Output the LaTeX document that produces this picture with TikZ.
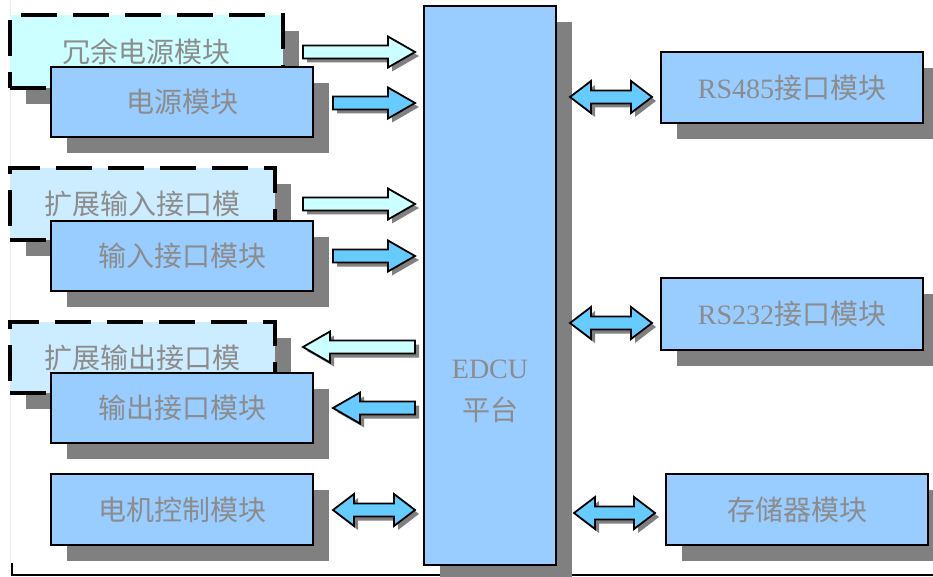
\documentclass[tikz,border=0pt]{standalone}
\usepackage{fontspec}
\setmainfont{Liberation Serif}
\newfontfamily\cjk{Noto Sans CJK SC}
\usetikzlibrary{shadows}
\definecolor{boxblue}{HTML}{99CCFF}
\definecolor{extcyan}{HTML}{CCFFFF}
\definecolor{extblue}{HTML}{CCECFF}
\definecolor{arrowblue}{HTML}{66CCFF}
\definecolor{shadowgray}{HTML}{808080}
\definecolor{txtgray}{HTML}{8C8C8C}
\tikzset{
  shad/.style={general shadow={shadow xshift=16pt, shadow yshift=-16pt, fill=shadowgray}},
  txt/.style={text=txtgray, font=\cjk\fontsize{28}{32}\selectfont},
  modbox/.style={txt, draw=black, line width=1.5pt, fill=boxblue, minimum width=262pt, minimum height=70pt, inner sep=0pt, shad},
  extbox/.style={txt, draw=black, line width=4pt, dash pattern=on 36pt off 16pt, minimum height=72pt, inner sep=0pt, shad},
  rpath/.style={insert path={(0,-6.5) -- (#1-27,-6.5) -- (#1-27,-15.5) -- (#1,0) -- (#1-27,15.5) -- (#1-27,6.5) -- (0,6.5) -- cycle}},
  lpath/.style={insert path={(0,0) -- (27,-15.5) -- (27,-6.5) -- (#1,-6.5) -- (#1,6.5) -- (27,6.5) -- (27,15.5) -- cycle}},
  dpath/.style={insert path={(0,0) -- (21,-16) -- (21,-6.5) -- (#1-21,-6.5) -- (#1-21,-16) -- (#1,0) -- (#1-21,16) -- (#1-21,6.5) -- (21,6.5) -- (21,16) -- cycle}},
  pics/blockarrow/.style n args={3}{code={
    \fill[shadowgray, shift={(4,4)}, #1=#2];
    \draw[black, line width=1.8pt, line join=miter, fill=#3, #1=#2];
  }},
}
\begin{document}
\begin{tikzpicture}[x=1pt, y=-1pt]
\useasboundingbox (0,0) rectangle (933,577);
\fill[white] (0,0) rectangle (933,577);
% frame
\draw[black!8, line width=0.6pt] (10,0) -- (10,563);
\draw[black, line width=1.5pt] (12,563) -- (12,575) -- (933,575);

% left column
\node[extbox, fill=extcyan, minimum width=273pt, minimum height=73pt] (redpow) at (146.5,51.5) {冗余电源模块};
\node[modbox] (pow) at (182,102) {电源模块};
\node[extbox, fill=extblue, minimum width=265pt] (extin) at (142.5,204) {扩展输入接口模};
\node[modbox] (inp) at (182,256) {输入接口模块};
\node[extbox, fill=extblue, minimum width=265pt, minimum height=71pt] (extout) at (142.5,357.5) {扩展输出接口模};
\node[modbox] (outp) at (182,408) {输出接口模块};
\node[modbox, minimum height=71pt] (motor) at (182,509.5) {电机控制模块};

% centre
\node[modbox, minimum width=132pt, minimum height=559pt] (edcu) at (490,285.5) {};
\node[txt, font=\fontsize{28}{42}\selectfont, align=center] (edcutxt) at (490,391) {EDCU\\{\cjk 平台}};

% right column
\node[modbox, minimum height=71pt] (rs485) at (792,87.5) {{\rmfamily RS485}接口模块};
\node[modbox, minimum height=72pt] (rs232) at (792,314) {{\rmfamily RS232}接口模块};
\node[modbox, minimum height=71pt] (store) at (797,509.5) {存储器模块};

% block arrows
\pic (a1) at (303,52) {blockarrow={rpath}{112}{extcyan}};
\pic (a2) at (333,103) {blockarrow={rpath}{82}{arrowblue}};
\pic (a3) at (303,204) {blockarrow={rpath}{112}{extcyan}};
\pic (a4) at (333,256) {blockarrow={rpath}{82}{arrowblue}};
\pic (a5) at (303,347) {blockarrow={lpath}{112}{extcyan}};
\pic (a6) at (333,408) {blockarrow={lpath}{82}{arrowblue}};
\pic (a7) at (333,510) {blockarrow={dpath}{82}{arrowblue}};
\pic (a8) at (570,97) {blockarrow={dpath}{82}{arrowblue}};
\pic (a9) at (570,323) {blockarrow={dpath}{82}{arrowblue}};
\pic (a10) at (574,513) {blockarrow={dpath}{81}{arrowblue}};
\end{tikzpicture}
\end{document}
